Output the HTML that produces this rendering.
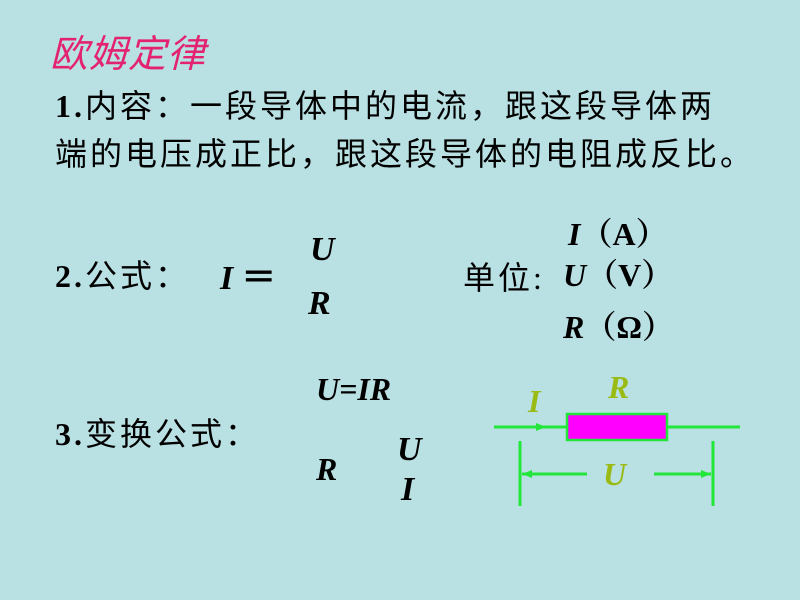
<!DOCTYPE html>
<html><head><meta charset="utf-8"><style>
body{margin:0;width:800px;height:600px;background:#b9e0e3;position:relative;overflow:hidden;font-family:"Liberation Serif","Noto Serif CJK SC","Noto Sans CJK SC",serif;color:#000}
.t{position:absolute;white-space:nowrap;line-height:1}
.c{font-family:"Liberation Serif","Noto Sans CJK SC",sans-serif;font-size:32px;letter-spacing:3px}
.b{font-weight:bold;font-style:italic;font-family:"Liberation Serif",serif}
</style></head><body>
<div class="t" style="left:50px;top:32px;font-size:38px;color:#e3236f;font-style:italic;font-family:'Noto Sans CJK SC',sans-serif;letter-spacing:1px">欧姆定律</div>
<div class="t c" style="left:55px;top:90px"><b style="font-family:'Liberation Serif'">1.</b>内容：一段导体中的电流，跟这段导体两</div>
<div class="t c" style="left:55px;top:138px">端的电压成正比，跟这段导体的电阻成反比。</div>
<div class="t c" style="left:55px;top:260px"><b style="font-family:'Liberation Serif'">2.</b>公式：</div>
<div class="t b" style="left:220px;top:262px;font-size:34px">I <span style="font-style:normal">＝</span></div>
<div class="t b" style="left:310px;top:233px;font-size:34px">U</div>
<div class="t b" style="left:308px;top:287px;font-size:34px">R</div>
<div class="t c" style="left:463px;top:262px">单位:</div>
<div class="t" style="left:568px;top:218px;font-size:32px;font-weight:bold"><i>I</i>（A）</div>
<div class="t" style="left:563px;top:259px;font-size:32px;font-weight:bold"><i>U</i>（V）</div>
<div class="t" style="left:563px;top:311px;font-size:32px;font-weight:bold"><i>R</i>（Ω）</div>
<div class="t c" style="left:55px;top:418px"><b style="font-family:'Liberation Serif'">3.</b>变换公式：</div>
<div class="t b" style="left:316px;top:373px;font-size:32px">U=IR</div>
<div class="t b" style="left:316px;top:453px;font-size:32px">R</div>
<div class="t b" style="left:397px;top:433px;font-size:34px">U</div>
<div class="t b" style="left:401px;top:473px;font-size:34px">I</div>
<svg width="800" height="600" style="position:absolute;left:0;top:0">
<g stroke="#22e63a" stroke-width="3" fill="none">
<line x1="494" y1="427" x2="567" y2="427"/><line x1="667" y1="427" x2="740" y2="427"/>
<line x1="520" y1="441" x2="520" y2="506"/><line x1="713" y1="441" x2="713" y2="506"/>
<line x1="522" y1="474" x2="587" y2="474"/><line x1="654" y1="474" x2="711" y2="474"/>
</g>
<g fill="#22e63a"><polygon points="546,427 536,423 536,431"/><polygon points="522,474 532,470 532,478"/><polygon points="711,474 701,470 701,478"/></g>
<rect x="567" y="414" width="100" height="26" fill="#ff00ff" stroke="#22e63a" stroke-width="2.5"/>
<g fill="#9abb14" font-family="Liberation Serif" font-weight="bold" font-style="italic" font-size="32">
<text x="528" y="412">I</text><text x="608" y="398">R</text><text x="603" y="485">U</text></g>
</svg>
</body></html>
